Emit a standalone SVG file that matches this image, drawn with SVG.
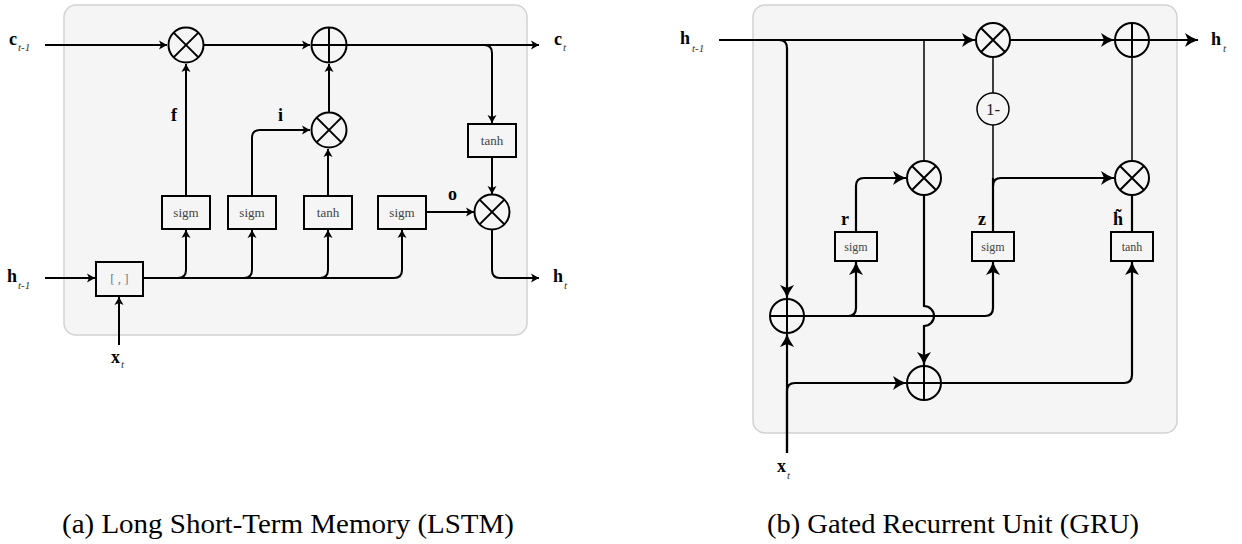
<svg xmlns="http://www.w3.org/2000/svg" width="1242" height="544" viewBox="0 0 1242 544">
<style>
.panel{fill:#f5f5f5;stroke:#d2d2d2;stroke-width:1.5}
.w{fill:none;stroke:#000;stroke-width:2}
.wg{fill:none;stroke:#000;stroke-width:2.2}
.thin{fill:none;stroke:#000;stroke-width:1.5}
.op{fill:none;stroke:#000;stroke-width:2}
.box{fill:none;stroke:#000;stroke-width:2}
text{font-family:"Liberation Serif","Times New Roman",Tinos,"DejaVu Serif","Noto Serif",serif}
.bt{fill:#444;text-anchor:middle}
.lb{font-weight:bold;fill:#000;font-size:18px}
.sub{font-style:italic;fill:#333;font-size:11px}
.cap{fill:#000;font-size:28px}
</style>
<defs>
<marker id="aS" viewBox="-9 -5 10 10" markerWidth="10" markerHeight="10" refX="0" refY="0" orient="auto" markerUnits="userSpaceOnUse"><path d="M0,0 L-8,-4.5 L-6,0 L-8,4.5 Z" fill="#000"/></marker>
<marker id="aL" viewBox="-15 -8 16 16" markerWidth="16" markerHeight="16" refX="0" refY="0" orient="auto" markerUnits="userSpaceOnUse"><path d="M0,0 Q-6,-2 -13,-7 L-10,0 L-13,7 Q-6,2 0,0 Z" fill="#000"/></marker>
</defs>

<!-- LSTM panel -->
<rect id="lstm-panel" class="panel" x="64" y="5" width="463" height="330" rx="12"/>

<g id="lstm-connectors">
<path class="w" d="M45 45 H167" marker-end="url(#aS)"/>
<path class="w" d="M204 45 H310" marker-end="url(#aS)"/>
<path class="w" d="M347 45 H539" marker-end="url(#aS)"/>
<path class="w" d="M347 45 H484 Q492 45 492 53 V123" marker-end="url(#aS)"/>
<path class="w" d="M492 157 V194" marker-end="url(#aS)"/>
<path class="w" d="M426 212 H474" marker-end="url(#aS)"/>
<path class="w" d="M492 230 V270 Q492 278 500 278 H539" marker-end="url(#aS)"/>
<path class="w" d="M186 196 V64" marker-end="url(#aS)"/>
<path class="w" d="M252 196 V138 Q252 130 260 130 H310" marker-end="url(#aS)"/>
<path class="w" d="M328 196 V149" marker-end="url(#aS)"/>
<path class="w" d="M329 112 V64" marker-end="url(#aS)"/>
<path class="w" d="M45 278 H95" marker-end="url(#aS)"/>
<path class="w" d="M119 345 V297" marker-end="url(#aS)"/>
<path class="w" d="M143 278 H394 Q402 278 402 270 V230" marker-end="url(#aS)"/>
<path class="w" d="M143 278 H178 Q186 278 186 270 V230" marker-end="url(#aS)"/>
<path class="w" d="M143 278 H244 Q252 278 252 270 V230" marker-end="url(#aS)"/>
<path class="w" d="M143 278 H320 Q328 278 328 270 V230" marker-end="url(#aS)"/>
</g>

<g id="lstm-mul-f"><circle class="op" cx="186" cy="45" r="17.5"/><path class="op" d="M173.6 32.6 L198.4 57.4 M198.4 32.6 L173.6 57.4"/></g>
<g id="lstm-add-c"><circle class="op" cx="329" cy="45" r="17.5"/><path class="op" d="M311.5 45 H346.5 M329 27.5 V62.5"/></g>
<g id="lstm-mul-i"><circle class="op" cx="329" cy="130" r="17.5"/><path class="op" d="M316.6 117.6 L341.4 142.4 M341.4 117.6 L316.6 142.4"/></g>
<g id="lstm-mul-o"><circle class="op" cx="492" cy="212" r="17.5"/><path class="op" d="M479.6 199.6 L504.4 224.4 M504.4 199.6 L479.6 224.4"/></g>
<g id="lstm-tanh-c"><rect class="box" x="468" y="124" width="48" height="33"/><text class="bt" x="492" y="145" font-size="13">tanh</text></g>
<g id="lstm-sigm-f"><rect class="box" x="162" y="196" width="48" height="33"/><text class="bt" x="186" y="217" font-size="13">sigm</text></g>
<g id="lstm-sigm-i"><rect class="box" x="228" y="196" width="48" height="33"/><text class="bt" x="252" y="217" font-size="13">sigm</text></g>
<g id="lstm-tanh-g"><rect class="box" x="304" y="196" width="48" height="33"/><text class="bt" x="328" y="217" font-size="13">tanh</text></g>
<g id="lstm-sigm-o"><rect class="box" x="378" y="196" width="48" height="33"/><text class="bt" x="402" y="217" font-size="13">sigm</text></g>
<g id="lstm-concat"><rect class="box" x="96" y="262" width="47" height="34"/><text class="bt" x="119.5" y="283" font-size="13" style="fill:#777">[ , ]</text></g>

<g id="lstm-labels">
<text class="lb" x="9" y="45">c</text><text class="sub" x="18" y="51">t-1</text>
<text class="lb" x="554" y="45">c</text><text class="sub" x="563" y="51">t</text>
<text class="lb" x="7" y="282">h</text><text class="sub" x="18" y="289">t-1</text>
<text class="lb" x="553" y="282">h</text><text class="sub" x="564" y="289">t</text>
<text class="lb" x="111" y="363">x</text><text class="sub" x="121" y="368">t</text>
<text class="lb" x="171" y="121">f</text>
<text class="lb" x="278" y="121">i</text>
<text class="lb" x="448" y="200">o</text>
</g>

<!-- GRU panel -->
<rect id="gru-panel" class="panel" x="753" y="5" width="424" height="428" rx="12"/>

<g id="gru-connectors">
<path class="wg" d="M719 40 H975" marker-end="url(#aL)"/>
<path class="wg" d="M719 40 H779 Q787 40 787 48 V298" marker-end="url(#aL)"/>
<path class="thin" d="M924 40 V161"/>
<path class="wg" d="M1010 40 H1114" marker-end="url(#aL)"/>
<path class="wg" d="M1149 40 H1198" marker-end="url(#aL)"/>
<path class="thin" d="M993 57 V93"/>
<path class="thin" d="M993 125 V178"/>
<path class="wg" d="M993 232 V178"/>
<path class="wg" d="M993 186 Q993 178 1001 178 H1114" marker-end="url(#aL)"/>
<path class="thin" d="M1132 161 V57"/>
<path class="wg" d="M1132 232 V195"/>
<path class="wg" d="M856 232 V186 Q856 178 864 178 H906" marker-end="url(#aL)"/>
<path class="wg" d="M924 195 V306 A10 10 0 0 1 924 326 V365" marker-end="url(#aL)"/>
<path class="wg" d="M804 316 H985 Q993 316 993 308 V262" marker-end="url(#aL)"/>
<path class="wg" d="M804 316 H848 Q856 316 856 308 V262" marker-end="url(#aL)"/>
<path class="wg" d="M787 453 V334" marker-end="url(#aL)"/>
<path class="wg" d="M787 453 V391 Q787 383 795 383 H906" marker-end="url(#aL)"/>
<path class="wg" d="M941 383 H1124 Q1132 383 1132 375 V262" marker-end="url(#aL)"/>
</g>

<g id="gru-mul-top"><circle class="op" cx="993" cy="40" r="17"/><path class="op" d="M981 28 L1005 52 M1005 28 L981 52"/></g>
<g id="gru-add-out"><circle class="op" cx="1132" cy="40" r="17"/><path class="op" d="M1115 40 H1149 M1132 23 V57"/></g>
<g id="gru-one-minus"><circle class="thin" cx="993" cy="109" r="16"/><text x="993" y="115" font-size="17" text-anchor="middle" fill="#222">1-</text></g>
<g id="gru-mul-r"><circle class="op" cx="924" cy="178" r="17"/><path class="op" d="M912 166 L936 190 M936 166 L912 190"/></g>
<g id="gru-mul-h"><circle class="op" cx="1132" cy="178" r="17"/><path class="op" d="M1120 166 L1144 190 M1144 166 L1120 190"/></g>
<g id="gru-add-in"><circle class="op" cx="787" cy="316" r="17"/><path class="op" d="M770 316 H804 M787 299 V333"/></g>
<g id="gru-add-cand"><circle class="op" cx="924" cy="383" r="17"/><path class="op" d="M907 383 H941 M924 366 V400"/></g>
<g id="gru-sigm-r"><rect class="box" x="835" y="232" width="42" height="29"/><text class="bt" x="856" y="251" font-size="12">sigm</text></g>
<g id="gru-sigm-z"><rect class="box" x="972" y="232" width="42" height="29"/><text class="bt" x="993" y="251" font-size="12">sigm</text></g>
<g id="gru-tanh"><rect class="box" x="1111" y="232" width="42" height="29"/><text class="bt" x="1132" y="251" font-size="12">tanh</text></g>

<g id="gru-labels">
<text class="lb" x="680" y="44">h</text><text class="sub" x="692" y="52">t-1</text>
<text class="lb" x="1211" y="45">h</text><text class="sub" x="1223" y="52">t</text>
<text class="lb" x="777" y="472">x</text><text class="sub" x="787" y="479">t</text>
<text class="lb" x="841" y="225">r</text>
<text class="lb" x="978" y="225">z</text>
<text class="lb" x="1113" y="225">h̃</text>
</g>

<g id="captions">
<text class="cap" x="62" y="533" textLength="452" lengthAdjust="spacingAndGlyphs">(a) Long Short-Term Memory (LSTM)</text>
<text class="cap" x="767" y="533" textLength="372" lengthAdjust="spacingAndGlyphs">(b) Gated Recurrent Unit (GRU)</text>
</g>
</svg>
